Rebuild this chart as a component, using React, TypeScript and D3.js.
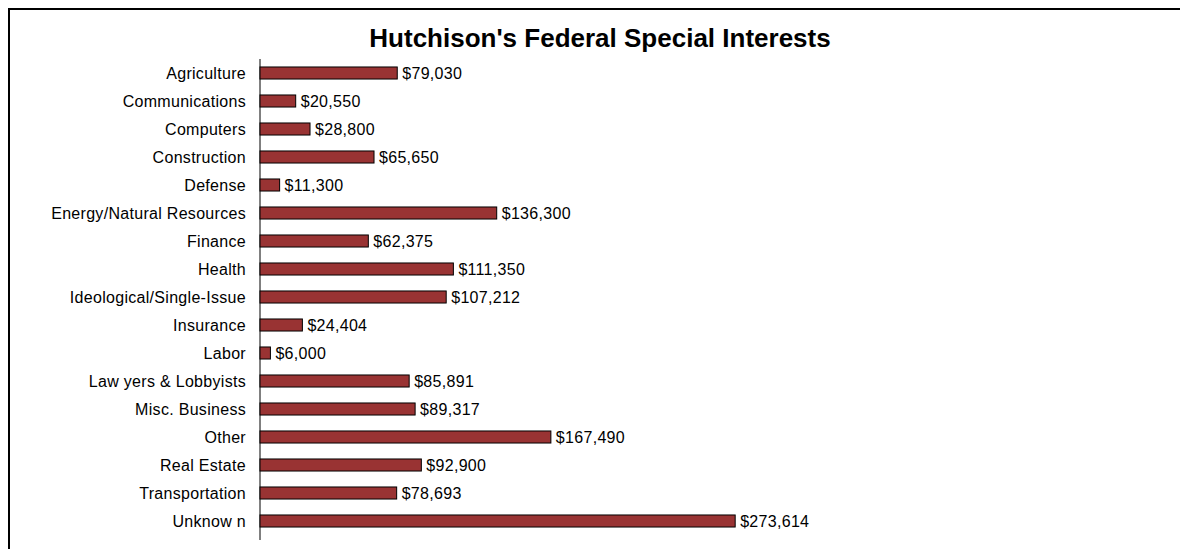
import React from "react";
import * as d3 from "d3";

const categories = [
  "Agriculture",
  "Communications",
  "Computers",
  "Construction",
  "Defense",
  "Energy/Natural Resources",
  "Finance",
  "Health",
  "Ideological/Single-Issue",
  "Insurance",
  "Labor",
  "Law yers & Lobbyists",
  "Misc. Business",
  "Other",
  "Real Estate",
  "Transportation",
  "Unknow n",
];
const values = [
  79030, 20550, 28800, 65650, 11300, 136300, 62375, 111350, 107212, 24404, 6000,
  85891, 89317, 167490, 92900, 78693, 273614,
];
const title = "Hutchison's Federal Special Interests";

const W = 1180;
const H = 549;

export default function App() {
  const axisX = 260;
  const x = d3.scaleLinear().domain([0, 300000]).range([axisX, axisX + 521]);
  const y = d3
    .scaleBand<string>()
    .domain(categories)
    .range([59, 535])
    .paddingInner(0.57)
    .paddingOuter(0.285);
  const fmt = (v: number) => "$" + d3.format(",")(v);
  const font = "Arial, 'Liberation Sans', sans-serif";
  return (
    <svg
      width={W}
      height={H}
      style={{ position: "absolute", left: 0, top: 0, display: "block" }}
    >
      <rect x={0} y={0} width={W} height={H} fill="#fff" />
      <rect
        x={9}
        y={9}
        width={W + 20}
        height={H + 20}
        fill="none"
        stroke="#000"
        strokeWidth={2}
      />
      <text
        x={600}
        y={47}
        textAnchor="middle"
        fontFamily={font}
        fontWeight="bold"
        fontSize={26}
        fill="#000"
      >
        {title}
      </text>
      <line x1={axisX} x2={axisX} y1={59} y2={540} stroke="#000" strokeWidth={1} />
      {categories.map((c, i) => {
        const yy = y(c)!;
        const bw = y.bandwidth();
        const cy = yy + bw / 2;
        return (
          <g key={c}>
            <rect
              x={axisX}
              y={yy}
              width={x(values[i]) - axisX}
              height={bw}
              fill="#993333"
              stroke="#000"
              strokeWidth={1}
            />
            <text
              x={246}
              y={cy}
              dy="0.36em"
              textAnchor="end"
              fontFamily={font}
              fontSize={16}
              letterSpacing={0.3}
              fill="#000"
            >
              {c}
            </text>
            <text
              x={x(values[i]) + 5}
              y={cy}
              dy="0.36em"
              fontFamily={font}
              fontSize={16}
              letterSpacing={0.3}
              fill="#000"
            >
              {fmt(values[i])}
            </text>
          </g>
        );
      })}
    </svg>
  );
}
